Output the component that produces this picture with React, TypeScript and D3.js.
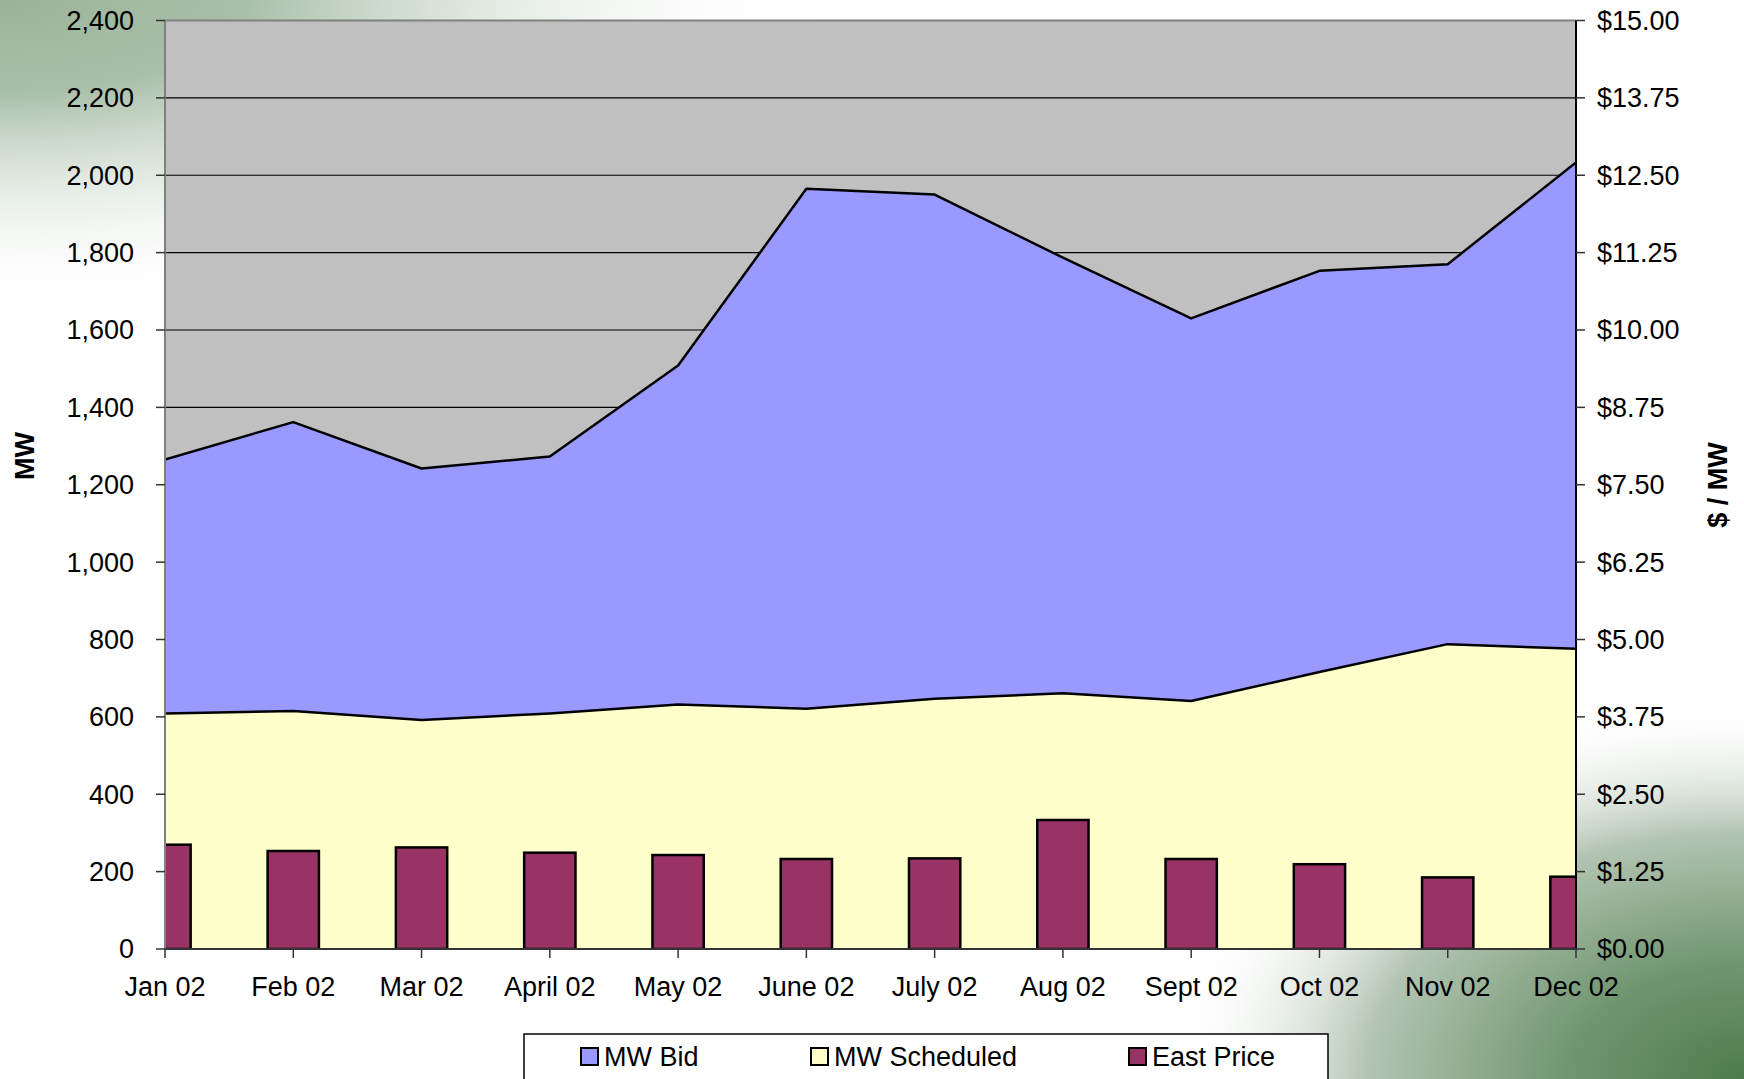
import React from 'react'
import * as d3 from 'd3'

const months = ['Jan 02', 'Feb 02', 'Mar 02', 'April 02', 'May 02', 'June 02', 'July 02', 'Aug 02', 'Sept 02', 'Oct 02', 'Nov 02', 'Dec 02']
const mwBid = [1265, 1362, 1242, 1273, 1508, 1965, 1950, 1787, 1630, 1753, 1770, 2033]
const mwScheduled = [609, 615, 592, 609, 632, 621, 647, 661, 641, 716, 788, 776]
const eastPrice = [1.685, 1.583, 1.641, 1.556, 1.518, 1.454, 1.464, 2.084, 1.454, 1.37, 1.157, 1.168]
const leftTicks = [0, 200, 400, 600, 800, 1000, 1200, 1400, 1600, 1800, 2000, 2200, 2400]
const rightTicks = [0, 1.25, 2.5, 3.75, 5, 6.25, 7.5, 8.75, 10, 11.25, 12.5, 13.75, 15]

const W = 1744
const H = 1079
const FONT = '"Liberation Sans", Arial, sans-serif'

export default function App() {
  const left = 165
  const right = 1576
  const top = 20.5
  const bottom = 949

  const x = d3.scalePoint<string>().domain(months).range([left, right])
  const y = d3.scaleLinear().domain([0, 2400]).range([bottom, top])
  const y2 = d3.scaleLinear().domain([0, 15]).range([bottom, top])
  const barW = (x.step() || 128) * 0.4

  const area = (vals: number[]) =>
    d3.area<number>()
      .x((d, i) => x(months[i])!)
      .y0(bottom)
      .y1((d) => y(d))(vals)!
  const topLine = (vals: number[]) =>
    d3.line<number>()
      .x((d, i) => x(months[i])!)
      .y((d) => y(d))(vals)!

  const legend = [
    { label: 'MW Bid', color: '#9999FF', sx: 581, tx: 604 },
    { label: 'MW Scheduled', color: '#FFFFCC', sx: 811, tx: 834 },
    { label: 'East Price', color: '#993366', sx: 1129, tx: 1152 },
  ]

  return (
    <svg width={W} height={H} style={{ position: 'absolute', left: 0, top: 0 }} fontFamily={FONT}>
      <defs>
        <radialGradient id="tl" cx="0" cy="0" r="1" gradientUnits="userSpaceOnUse"
          gradientTransform="translate(0,0) scale(820,310)">
          <stop offset="0" stopColor="#9bb39b" />
          <stop offset="0.3" stopColor="#a9bfa9" />
          <stop offset="1" stopColor="#ffffff" stopOpacity="0" />
        </radialGradient>
        <radialGradient id="br" cx="0" cy="0" r="1" gradientUnits="userSpaceOnUse"
          gradientTransform={`translate(${W},${H}) scale(580,380)`}>
          <stop offset="0" stopColor="#4e7c4e" />
          <stop offset="0.3" stopColor="#6f956f" />
          <stop offset="0.65" stopColor="#b3c4b3" />
          <stop offset="1" stopColor="#ffffff" stopOpacity="0" />
        </radialGradient>
        <clipPath id="plot">
          <rect x={left} y={top} width={right - left} height={bottom - top} />
        </clipPath>
      </defs>
      <rect width={W} height={H} fill="#ffffff" />
      <rect width={W} height={H} fill="url(#tl)" />
      <rect width={W} height={H} fill="url(#br)" />

      <rect x={left} y={top} width={right - left} height={bottom - top} fill="#C0C0C0" />
      {leftTicks.slice(1, -1).map((t) => (
        <line key={t} x1={left} x2={right} y1={y(t)} y2={y(t)} stroke="#000" strokeWidth={1.2} />
      ))}

      <g clipPath="url(#plot)">
        <path d={area(mwBid)} fill="#9999FF" />
        <path d={topLine(mwBid)} fill="none" stroke="#000" strokeWidth={2.5} strokeLinejoin="round" />
        <path d={area(mwScheduled)} fill="#FFFFCC" />
        <path d={topLine(mwScheduled)} fill="none" stroke="#000" strokeWidth={2.5} strokeLinejoin="round" />
        {eastPrice.map((v, i) => (
          <rect key={i} x={x(months[i])! - barW / 2} y={y2(v)} width={barW} height={bottom - y2(v)}
            fill="#993366" stroke="#000" strokeWidth={2.5} />
        ))}
      </g>

      {/* frame */}
      <line x1={left} x2={right} y1={top} y2={top} stroke="#808080" strokeWidth={2} />
      <line x1={left} x2={left} y1={top} y2={bottom} stroke="#808080" strokeWidth={2} />
      <line x1={right} x2={right} y1={top} y2={bottom} stroke="#000" strokeWidth={2} />
      <line x1={left} x2={right} y1={bottom} y2={bottom} stroke="#333" strokeWidth={2} />

      {/* left axis */}
      {leftTicks.map((t) => (
        <g key={t}>
          <line x1={left - 9} x2={left} y1={y(t)} y2={y(t)} stroke="#333" strokeWidth={1.5} />
          <text x={134} y={y(t)} dy="0.35em" textAnchor="end" fontSize={27} fill="#000">
            {d3.format(',')(t)}
          </text>
        </g>
      ))}
      {/* right axis */}
      {rightTicks.map((t) => (
        <g key={t}>
          <line x1={right} x2={right + 9} y1={y2(t)} y2={y2(t)} stroke="#333" strokeWidth={1.5} />
          <text x={1597} y={y2(t)} dy="0.35em" textAnchor="start" fontSize={27} fill="#000">
            {d3.format('$.2f')(t)}
          </text>
        </g>
      ))}
      {/* bottom axis */}
      {months.map((m) => (
        <g key={m}>
          <line x1={x(m)} x2={x(m)} y1={bottom} y2={bottom + 9} stroke="#333" strokeWidth={1.5} />
          <text x={x(m)} y={996} textAnchor="middle" fontSize={27} fill="#000">{m}</text>
        </g>
      ))}

      <text transform="translate(34,456) rotate(-90)" textAnchor="middle" fontSize={27} fontWeight="bold">MW</text>
      <text transform="translate(1727,485) rotate(-90)" textAnchor="middle" fontSize={27} fontWeight="bold">$ / MW</text>

      {/* legend */}
      <rect x={524} y={1034} width={804} height={70} fill="#ffffff" stroke="#000" strokeWidth={1.5} />
      {legend.map((l) => (
        <g key={l.label}>
          <rect x={l.sx} y={1048} width={17} height={17} fill={l.color} stroke="#000" strokeWidth={2} />
          <text x={l.tx} y={1066} fontSize={27} fill="#000">{l.label}</text>
        </g>
      ))}
    </svg>
  )
}
